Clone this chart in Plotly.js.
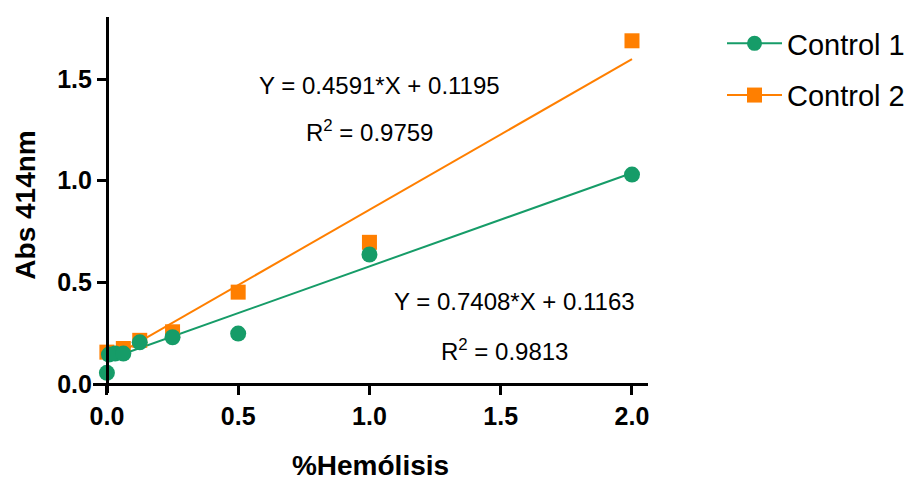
<!DOCTYPE html>
<html>
<head>
<meta charset="utf-8">
<script src="https://cdn.plot.ly/plotly-3.0.1.min.js"></script>
<style>html,body{margin:0;padding:0;background:#fff;}#chart{width:910px;height:481px;}</style>
</head>
<body>
<div id="chart"></div>
<script>
// Data
const seriesNames = ["Control 1", "Control 2"];
const c1X = [0, 0.0078, 0.03125, 0.0625, 0.125, 0.25, 0.5, 1.0, 2.0];
const c1Y = [0.055, 0.145, 0.15, 0.15, 0.205, 0.23, 0.248, 0.637, 1.03];
const c2X = [0, 0.0625, 0.125, 0.25, 0.5, 1.0, 2.0];
const c2Y = [0.157, 0.175, 0.215, 0.257, 0.452, 0.697, 1.688];
// Linear fits (as reported on chart)
const fit1 = {slope: 0.4591, intercept: 0.1195, r2: 0.9759};
const fit2 = {slope: 0.7408, intercept: 0.1163, r2: 0.9813};
const fitRange = [0, 2];
const xTicks = [0, 0.5, 1.0, 1.5, 2.0];
const yTicks = [0, 0.5, 1.0, 1.5];

const green = "#169c68";
const orange = "#ff7f00";
const font = "Liberation Sans, Arial, sans-serif";

function fitLine(f) {
  return fitRange.map(x => f.slope * x + f.intercept);
}

const xr = [-0.053, 2.061];
const yr = [-0.044, 1.805];

const traces = [
  {x: fitRange, y: fitLine(fit1), mode: "lines", line: {color: green, width: 2}, showlegend: false, hoverinfo: "skip"},
  {x: fitRange, y: fitLine(fit2), mode: "lines", line: {color: orange, width: 2}, showlegend: false, hoverinfo: "skip"},
  {x: c2X, y: c2Y, mode: "markers", marker: {symbol: "square", size: 15, color: orange}, showlegend: false},
  {x: c1X, y: c1Y, mode: "markers", marker: {symbol: "circle", size: 16, color: green}, showlegend: false},
  {x: [null], y: [null], name: seriesNames[0], mode: "lines+markers", legendgroup: "a",
   line: {color: green, width: 2}, marker: {symbol: "circle", size: 15, color: green}},
  {x: [null], y: [null], name: seriesNames[1], mode: "lines+markers", legendgroup: "b",
   line: {color: orange, width: 2}, marker: {symbol: "square", size: 15, color: orange}}
];

const layout = {
  width: 910, height: 481,
  margin: {l: 93, r: 262, t: 17, b: 88},
  paper_bgcolor: "#fff", plot_bgcolor: "#fff",
  font: {family: font, color: "#000"},
  xaxis: {
    range: xr, domain: [0, 1], anchor: "free",
    position: (0 - yr[0]) / (yr[1] - yr[0]),
    tickvals: xTicks, tickformat: ".1f",
    showline: true, linecolor: "#000", linewidth: 3,
    ticks: "outside", ticklen: 9, tickwidth: 3, tickcolor: "#000",
    showgrid: false, zeroline: false,
    tickfont: {family: font, size: 25, color: "#000", weight: "bold"},
    title: {text: "%Hemólisis", font: {family: font, size: 28, color: "#000", weight: "bold"}, standoff: 28}
  },
  yaxis: {
    range: yr, domain: [0, 1], anchor: "free",
    position: (0 - xr[0]) / (xr[1] - xr[0]),
    tickvals: yTicks, tickformat: ".1f",
    showline: true, linecolor: "#000", linewidth: 3,
    ticks: "outside", ticklen: 9, tickwidth: 3, tickcolor: "#000",
    showgrid: false, zeroline: false,
    tickfont: {family: font, size: 25, color: "#000", weight: "bold"},
    title: {text: "Abs 414nm", font: {family: font, size: 28, color: "#000", weight: "bold"}, standoff: 12}
  },
  legend: {
    xref: "container", yref: "container", x: 722 / 910, y: 1 - 18 / 481,
    xanchor: "left", yanchor: "top",
    font: {family: font, size: 29, color: "#000"},
    itemwidth: 55,
    tracegroupgap: 11, bgcolor: "rgba(0,0,0,0)"
  },
  annotations: [
    {xref: "x", yref: "y", x: 1.04, y: 1.466, showarrow: false,
     text: "Y = " + fit1.slope.toFixed(4) + "*X + " + fit1.intercept.toFixed(4),
     font: {family: font, size: 24, color: "#000"}},
    {xref: "x", yref: "y", x: 1.002, y: 1.244, showarrow: false,
     text: "R<sup>2</sup> = " + fit1.r2.toFixed(4),
     font: {family: font, size: 24, color: "#000"}},
    {xref: "x", yref: "y", x: 1.554, y: 0.408, showarrow: false,
     text: "Y = " + fit2.slope.toFixed(4) + "*X + " + fit2.intercept.toFixed(4),
     font: {family: font, size: 24, color: "#000"}},
    {xref: "x", yref: "y", x: 1.516, y: 0.167, showarrow: false,
     text: "R<sup>2</sup> = " + fit2.r2.toFixed(4),
     font: {family: font, size: 24, color: "#000"}}
  ]
};

Plotly.newPlot("chart", traces, layout, {displayModeBar: false, staticPlot: true});
</script>
</body>
</html>
